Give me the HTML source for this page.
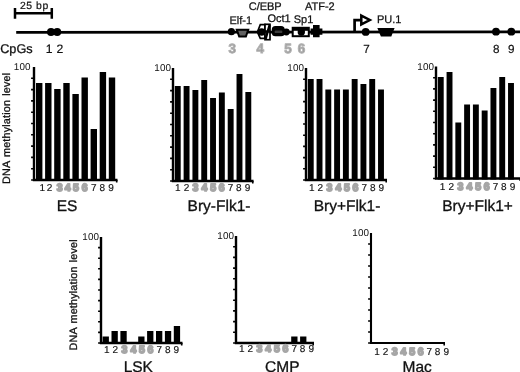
<!DOCTYPE html>
<html><head><meta charset="utf-8"><title>figure</title>
<style>
html,body{margin:0;padding:0;background:#fff;}
svg{display:block;font-family:"Liberation Sans",sans-serif;text-rendering:geometricPrecision;filter:blur(0.4px);}
.t{font-size:11px;fill:#111;stroke:#111;stroke-width:0.25px;}
.n{font-size:10.5px;fill:#111;stroke:#111;stroke-width:0.2px;}
.g{font-size:13.4px;font-weight:bold;fill:#9a9a9a;stroke:#b2b2b2;stroke-width:1px;stroke-linejoin:round;}
.xl{font-size:10px;fill:#111;stroke:#111;stroke-width:0.15px;text-anchor:middle;}
.xg{font-size:10.5px;font-weight:bold;fill:#979797;stroke:#a6a6a6;stroke-width:1.7px;stroke-linejoin:round;text-anchor:middle;}
.h{font-size:9.9px;letter-spacing:0.05px;fill:#111;text-anchor:end;}
.ti{font-size:15.5px;fill:#111;stroke:#111;stroke-width:0.3px;text-anchor:middle;}
.yl{font-size:10.8px;fill:#111;stroke:#111;stroke-width:0.3px;word-spacing:1px;letter-spacing:0.17px;}
</style></head><body>
<svg width="520" height="372" viewBox="0 0 520 372">
<rect width="520" height="372" fill="#fff"/>

<g stroke="#000" stroke-width="2.5" fill="none"><path d="M15 13.3H52M15 8V18.7M51.8 8V18.7"/></g>
<text x="20" y="8.5" class="n" style="font-size:10.4px;word-spacing:0px;letter-spacing:0.55px">25 bp</text>
<path d="M16.2 32.3L520 31.9" stroke="#000" stroke-width="2.8" fill="none"/>
<circle cx="51" cy="32.1" r="4" fill="#000"/>
<circle cx="57.2" cy="32.1" r="4" fill="#000"/>
<circle cx="231.4" cy="31.7" r="3.6" fill="#000"/>
<circle cx="286.3" cy="32" r="3.4" fill="#000"/>
<circle cx="365.7" cy="31.9" r="3.9" fill="#000"/>
<circle cx="496" cy="31.7" r="3.9" fill="#000"/>
<circle cx="511.3" cy="31.7" r="3.9" fill="#000"/>
<text x="0.2" y="53.3" style="font-size:12.7px" fill="#111" stroke="#111" stroke-width="0.3">CpGs</text>
<text x="45.7" y="53.2" class="n" style="font-size:12.2px">1</text><text x="56.5" y="53.2" class="n" style="font-size:12.2px">2</text>
<text x="229.5" y="24" class="t">Elf-1</text>
<path d="M236.8 29.8H248.2L245.9 36.5H239.2Z" fill="#626262" stroke="#000" stroke-width="2" stroke-linejoin="miter"/>
<text x="248.7" y="10" class="t">C/EBP</text>
<path d="M257.4 32L260.3 24.7H265V38.4H260.3Z" fill="#fff" stroke="#000" stroke-width="1.7"/>
<rect x="265" y="24.3" width="5" height="15.4" fill="#fff" stroke="#000" stroke-width="1.7"/>
<path d="M265.6 39L269.6 25M265 31.5H270" stroke="#000" stroke-width="2.4" fill="none"/>
<circle cx="261.6" cy="32" r="3.8" fill="#000"/>
<text x="267.5" y="21.5" class="t">Oct1</text>
<rect x="271.8" y="25.9" width="12.9" height="10.4" rx="3.6" fill="#000"/>
<rect x="274.6" y="30.6" width="7.8" height="2.5" rx="1.2" fill="#3c3c3c"/>
<text x="293.7" y="22.5" class="t">Sp1</text>
<rect x="292.7" y="27.8" width="16.1" height="8.4" fill="#fff" stroke="#000" stroke-width="2"/>
<rect x="293" y="28" width="15.5" height="2.8" fill="#000"/>
<circle cx="301.3" cy="32" r="3.7" fill="#000"/>
<text x="305" y="10" class="t">ATF-2</text>
<path d="M310.6 28.4H313V25H319.6V28.4H322.4V34.8H319.6V37.2H313V34.8H310.6Z" fill="#000"/>
<path d="M354.6 32V20.1H361.5" stroke="#000" stroke-width="2.7" fill="none"/>
<path d="M361.3 15.6L369.8 20L361.3 24.4Z" fill="#fff" stroke="#000" stroke-width="2.5" stroke-linejoin="miter"/>
<text x="377" y="23" class="t">PU.1</text>
<path d="M377.3 28.1H394.6L391.3 36.4H380.9Z" fill="#000"/>
<text x="228.5" y="52.8" class="g">3</text>
<text x="256.6" y="52.8" class="g">4</text>
<text x="284.2" y="52.8" class="g">5</text>
<text x="297.8" y="52.8" class="g">6</text>
<text x="366.6" y="52.8" class="n" style="font-size:11.7px;text-anchor:middle">7</text>
<text x="496.3" y="52.8" class="n" style="font-size:11.7px;text-anchor:middle">8</text>
<text x="511.2" y="52.8" class="n" style="font-size:11.7px;text-anchor:middle">9</text>
<path d="M34 67V180H117.5" stroke="#000" stroke-width="2.4" fill="none"/>
<path d="M31.1 180.00H34M31.1 168.70H34M31.1 157.40H34M31.1 146.10H34M31.1 134.80H34M31.1 123.50H34M31.1 112.20H34M31.1 100.90H34M31.1 89.60H34M31.1 78.30H34M116.70 180v2.4" stroke="#000" stroke-width="1.6" fill="none"/>
<rect x="36.00" y="83" width="6.4" height="98.00" fill="#000"/>
<rect x="45.10" y="83" width="6.4" height="98.00" fill="#000"/>
<rect x="54.20" y="89" width="6.4" height="92.00" fill="#000"/>
<rect x="63.30" y="83" width="6.4" height="98.00" fill="#000"/>
<rect x="72.40" y="94" width="6.4" height="87.00" fill="#000"/>
<rect x="81.50" y="77.5" width="6.4" height="103.50" fill="#000"/>
<rect x="90.60" y="129" width="6.4" height="52.00" fill="#000"/>
<rect x="99.70" y="72" width="6.4" height="109.00" fill="#000"/>
<rect x="108.80" y="77.5" width="6.4" height="103.50" fill="#000"/>
<text x="30.5" y="70" class="h">100</text>
<text x="42.30" y="191" class="xl">1</text>
<text x="49.60" y="191" class="xl">2</text>
<text x="59.60" y="191" class="xg">3</text>
<text x="67.70" y="191" class="xg">4</text>
<text x="76.00" y="191" class="xg">5</text>
<text x="84.60" y="191" class="xg">6</text>
<text x="93.80" y="191" class="xl">7</text>
<text x="102.30" y="191" class="xl">8</text>
<text x="111.00" y="191" class="xl">9</text>
<text x="67" y="211.3" class="ti">ES</text>
<path d="M173 68V181H253.56000000000003" stroke="#000" stroke-width="2.4" fill="none"/>
<path d="M170.1 181.00H173M170.1 169.70H173M170.1 158.40H173M170.1 147.10H173M170.1 135.80H173M170.1 124.50H173M170.1 113.20H173M170.1 101.90H173M170.1 90.60H173M170.1 79.30H173M252.76 181v2.4" stroke="#000" stroke-width="1.6" fill="none"/>
<rect x="174.80" y="86" width="5.9" height="96.00" fill="#000"/>
<rect x="183.62" y="86" width="5.9" height="96.00" fill="#000"/>
<rect x="192.44" y="90" width="5.9" height="92.00" fill="#000"/>
<rect x="201.26" y="80" width="5.9" height="102.00" fill="#000"/>
<rect x="210.08" y="98" width="5.9" height="84.00" fill="#000"/>
<rect x="218.90" y="92.5" width="5.9" height="89.50" fill="#000"/>
<rect x="227.72" y="109" width="5.9" height="73.00" fill="#000"/>
<rect x="236.54" y="74" width="5.9" height="108.00" fill="#000"/>
<rect x="245.36" y="92" width="5.9" height="90.00" fill="#000"/>
<text x="171" y="71" class="h">100</text>
<text x="177.80" y="191.1" class="xl">1</text>
<text x="186.41" y="191.1" class="xl">2</text>
<text x="195.53" y="191.1" class="xg">3</text>
<text x="204.44" y="191.1" class="xg">4</text>
<text x="213.15" y="191.1" class="xg">5</text>
<text x="221.66" y="191.1" class="xg">6</text>
<text x="230.48" y="191.1" class="xl">7</text>
<text x="238.89" y="191.1" class="xl">8</text>
<text x="247.50" y="191.1" class="xl">9</text>
<text x="219" y="211.3" class="ti">Bry-Flk1-</text>
<path d="M306 68V180H387" stroke="#000" stroke-width="2.4" fill="none"/>
<path d="M303.1 180.00H306M303.1 168.80H306M303.1 157.60H306M303.1 146.40H306M303.1 135.20H306M303.1 124.00H306M303.1 112.80H306M303.1 101.60H306M303.1 90.40H306M303.1 79.20H306M386.20 180v2.4" stroke="#000" stroke-width="1.6" fill="none"/>
<rect x="307.80" y="79" width="5.9" height="102.00" fill="#000"/>
<rect x="316.58" y="79" width="5.9" height="102.00" fill="#000"/>
<rect x="325.36" y="89.5" width="5.9" height="91.50" fill="#000"/>
<rect x="334.14" y="89.5" width="5.9" height="91.50" fill="#000"/>
<rect x="342.92" y="89.5" width="5.9" height="91.50" fill="#000"/>
<rect x="351.70" y="79" width="5.9" height="102.00" fill="#000"/>
<rect x="360.48" y="84" width="5.9" height="97.00" fill="#000"/>
<rect x="369.26" y="79" width="5.9" height="102.00" fill="#000"/>
<rect x="378.04" y="89.5" width="5.9" height="91.50" fill="#000"/>
<text x="304" y="71" class="h">100</text>
<text x="311.70" y="190.7" class="xl">1</text>
<text x="320.30" y="190.7" class="xl">2</text>
<text x="329.40" y="190.7" class="xg">3</text>
<text x="338.30" y="190.7" class="xg">4</text>
<text x="347.00" y="190.7" class="xg">5</text>
<text x="355.50" y="190.7" class="xg">6</text>
<text x="364.30" y="190.7" class="xl">7</text>
<text x="372.70" y="190.7" class="xl">8</text>
<text x="381.30" y="190.7" class="xl">9</text>
<text x="347" y="211.3" class="ti">Bry+Flk1-</text>
<path d="M436 66.5V178.5H521" stroke="#000" stroke-width="2.4" fill="none"/>
<path d="M433.1 178.50H436M433.1 167.30H436M433.1 156.10H436M433.1 144.90H436M433.1 133.70H436M433.1 122.50H436M433.1 111.30H436M433.1 100.10H436M433.1 88.90H436M433.1 77.70H436M520.20 178.5v2.4" stroke="#000" stroke-width="1.6" fill="none"/>
<rect x="437.80" y="77" width="5.9" height="102.50" fill="#000"/>
<rect x="446.58" y="72" width="5.9" height="107.50" fill="#000"/>
<rect x="455.36" y="122.5" width="5.9" height="57.00" fill="#000"/>
<rect x="464.14" y="104.5" width="5.9" height="75.00" fill="#000"/>
<rect x="472.92" y="104.5" width="5.9" height="75.00" fill="#000"/>
<rect x="481.70" y="110.5" width="5.9" height="69.00" fill="#000"/>
<rect x="490.48" y="88" width="5.9" height="91.50" fill="#000"/>
<rect x="499.26" y="77" width="5.9" height="102.50" fill="#000"/>
<rect x="508.04" y="83" width="5.9" height="96.50" fill="#000"/>
<text x="434" y="70" class="h">100</text>
<text x="442.60" y="189.6" class="xl">1</text>
<text x="451.24" y="189.6" class="xl">2</text>
<text x="460.38" y="189.6" class="xg">3</text>
<text x="469.31" y="189.6" class="xg">4</text>
<text x="478.05" y="189.6" class="xg">5</text>
<text x="486.59" y="189.6" class="xg">6</text>
<text x="495.43" y="189.6" class="xl">7</text>
<text x="503.86" y="189.6" class="xl">8</text>
<text x="512.50" y="189.6" class="xl">9</text>
<text x="477.6" y="210.5" class="ti">Bry+Flk1+</text>
<path d="M101 237V343H182.5" stroke="#000" stroke-width="2.4" fill="none"/>
<path d="M98.1 343.00H101M98.1 332.40H101M98.1 321.80H101M98.1 311.20H101M98.1 300.60H101M98.1 290.00H101M98.1 279.40H101M98.1 268.80H101M98.1 258.20H101M98.1 247.60H101M181.70 343v2.4" stroke="#000" stroke-width="1.6" fill="none"/>
<rect x="102.60" y="336.5" width="6.3" height="7.50" fill="#000"/>
<rect x="111.50" y="331" width="6.3" height="13.00" fill="#000"/>
<rect x="120.40" y="331" width="6.3" height="13.00" fill="#000"/>
<rect x="138.20" y="336.5" width="6.3" height="7.50" fill="#000"/>
<rect x="147.10" y="331" width="6.3" height="13.00" fill="#000"/>
<rect x="156.00" y="331" width="6.3" height="13.00" fill="#000"/>
<rect x="164.90" y="331" width="6.3" height="13.00" fill="#000"/>
<rect x="173.80" y="326" width="6.3" height="18.00" fill="#000"/>
<text x="99" y="240" class="h">100</text>
<text x="106.70" y="353.3" class="xl">1</text>
<text x="115.30" y="353.3" class="xl">2</text>
<text x="124.40" y="353.3" class="xg">3</text>
<text x="133.30" y="353.3" class="xg">4</text>
<text x="142.00" y="353.3" class="xg">5</text>
<text x="150.50" y="353.3" class="xg">6</text>
<text x="159.30" y="353.3" class="xl">7</text>
<text x="167.70" y="353.3" class="xl">8</text>
<text x="176.30" y="353.3" class="xl">9</text>
<text x="138.3" y="371.8" class="ti">LSK</text>
<path d="M236 236V343H314" stroke="#000" stroke-width="2.4" fill="none"/>
<path d="M233.1 343.00H236M233.1 332.30H236M233.1 321.60H236M233.1 310.90H236M233.1 300.20H236M233.1 289.50H236M233.1 278.80H236M233.1 268.10H236M233.1 257.40H236M233.1 246.70H236M313.20 343v2.4" stroke="#000" stroke-width="1.6" fill="none"/>
<rect x="291.20" y="336.5" width="6.3" height="7.50" fill="#000"/>
<rect x="300.10" y="336.5" width="6.3" height="7.50" fill="#000"/>
<text x="234" y="239" class="h">100</text>
<text x="241.70" y="352" class="xl">1</text>
<text x="250.29" y="352" class="xl">2</text>
<text x="259.37" y="352" class="xg">3</text>
<text x="268.26" y="352" class="xg">4</text>
<text x="276.95" y="352" class="xg">5</text>
<text x="285.44" y="352" class="xg">6</text>
<text x="294.22" y="352" class="xl">7</text>
<text x="302.61" y="352" class="xl">8</text>
<text x="311.20" y="352" class="xl">9</text>
<text x="282.3" y="372" class="ti">CMP</text>
<path d="M371 233V343H445" stroke="#000" stroke-width="2.1" fill="none"/>
<path d="M368.1 343.00H371M368.1 332.00H371M368.1 321.00H371M368.1 310.00H371M368.1 299.00H371M368.1 288.00H371M368.1 277.00H371M368.1 266.00H371M368.1 255.00H371M368.1 244.00H371M444.20 343v2.4" stroke="#000" stroke-width="1.6" fill="none"/>
<text x="369" y="235.5" class="h">100</text>
<text x="377.00" y="354.5" class="xl">1</text>
<text x="385.55" y="354.5" class="xl">2</text>
<text x="394.60" y="354.5" class="xg">3</text>
<text x="403.45" y="354.5" class="xg">4</text>
<text x="412.10" y="354.5" class="xg">5</text>
<text x="420.55" y="354.5" class="xg">6</text>
<text x="429.30" y="354.5" class="xl">7</text>
<text x="437.65" y="354.5" class="xl">8</text>
<text x="446.20" y="354.5" class="xl">9</text>
<text x="417.2" y="372.4" class="ti">Mac</text>
<text transform="translate(9.7 183.9) rotate(-90)" class="yl">DNA methylation level</text>
<text transform="translate(77.1 350.4) rotate(-90)" class="yl">DNA methylation level</text>
</svg></body></html>
